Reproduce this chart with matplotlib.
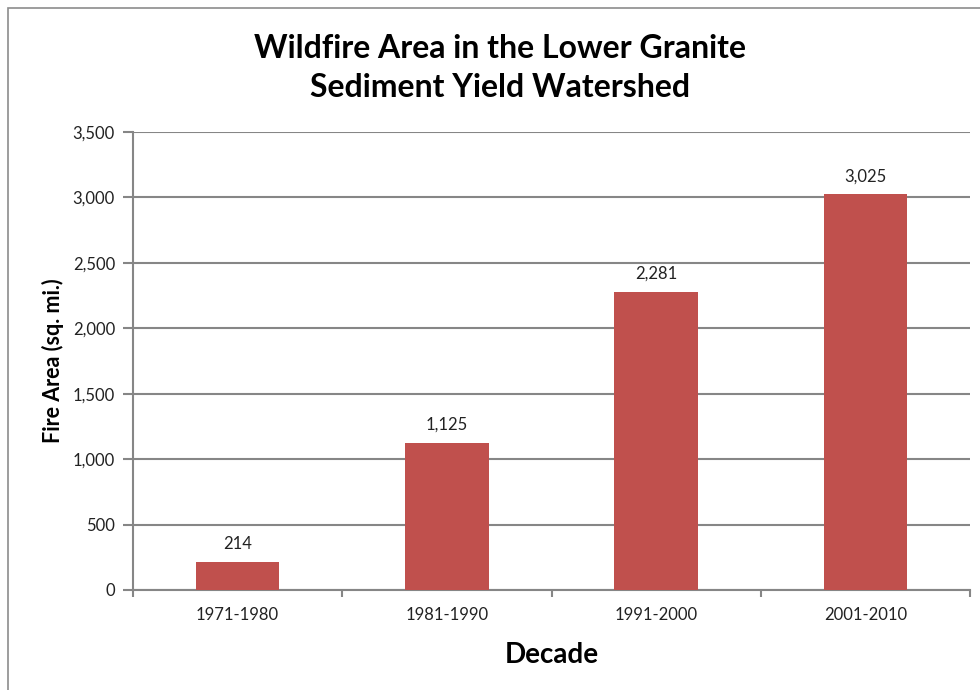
import matplotlib.pyplot as plt
from matplotlib.patches import Rectangle
from matplotlib.ticker import FuncFormatter

plt.rcParams['font.family'] = ['Lato', 'DejaVu Sans']

decades = ['1971-1980', '1981-1990', '1991-2000', '2001-2010']
fire_area = [214, 1125, 2281, 3025]
y_ticks = [0, 500, 1000, 1500, 2000, 2500, 3000, 3500]

W, H = 980, 690
fig = plt.figure(figsize=(W / 100, H / 100), dpi=100)

# outer chart border (runs off the right and bottom edge)
fig.patches.append(Rectangle((8 / W, -0.1), 1.2, 1 - 8 / H + 0.1, transform=fig.transFigure,
                             fill=False, edgecolor='#8c8c8c', linewidth=1.2))

ax = fig.add_axes([133 / W, 1 - 590 / H, (970 - 133) / W, (590 - 132) / H])

x = range(len(decades))
ax.bar(x, fire_area, width=0.4, color='#C0504D', zorder=3)
for xi, v in zip(x, fire_area):
    ax.text(xi, v + 75, f'{v:,}', ha='center', va='bottom', fontsize=12, color='#222222')

ax.set_xlim(-0.5, len(decades) - 0.5)
ax.set_ylim(0, 3500)
ax.set_yticks(y_ticks)
ax.yaxis.set_major_formatter(FuncFormatter(lambda v, p: f'{int(v):,}'))
ax.set_xticks(list(x))
ax.set_xticklabels(decades)
ax.set_xticks([i - 0.5 for i in range(len(decades) + 1)], minor=True)
ax.tick_params(axis='x', which='major', length=0, pad=12, labelsize=12, labelcolor='#222222')
ax.tick_params(axis='x', which='minor', length=5, width=1.5, color='#868686')
ax.tick_params(axis='y', length=7, width=1.5, color='#868686', pad=6, labelsize=12,
               labelcolor='#222222')

ax.grid(axis='y', color='#868686', linewidth=1.5, zorder=0)
for s in ['top', 'right']:
    ax.spines[s].set_visible(False)
for s in ['left', 'bottom']:
    ax.spines[s].set_color('#868686')
    ax.spines[s].set_linewidth(1.5)

ax.set_xlabel('Decade', fontsize=20, fontweight='bold', labelpad=14)
ax.set_ylabel('Fire Area (sq. mi.)', fontsize=15.5, fontweight='bold', labelpad=6)

fig.text(500 / W, 1 - 68 / H, 'Wildfire Area in the Lower Granite\nSediment Yield Watershed',
         ha='center', va='center', fontsize=23, fontweight='bold', linespacing=1.4)

fig.savefig('out.png', dpi=100)
